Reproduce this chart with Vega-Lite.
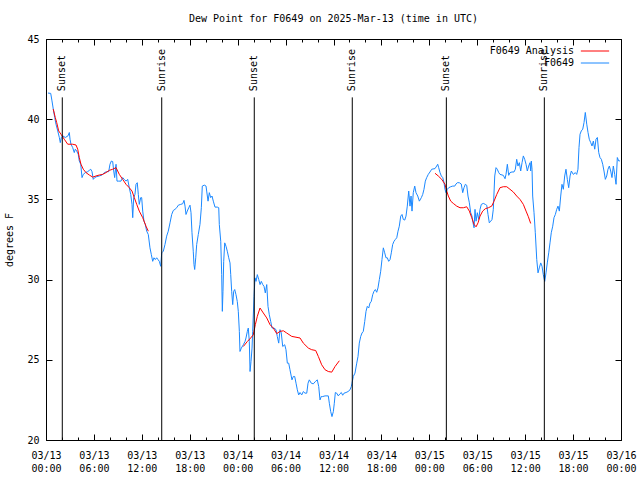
{
  "$schema": "https://vega.github.io/schema/vega-lite/v6.json",
  "autosize": {"type": "none"},
  "width": 575,
  "height": 401,
  "padding": {"left": 46, "top": 39, "right": 19, "bottom": 40},
  "background": "white",
  "title": {"text": "Dew Point for F0649 on 2025-Mar-13 (time in UTC)", "font": "DejaVu Sans Mono", "fontSize": 10, "fontWeight": "normal", "color": "black", "anchor": "middle", "offset": 10},
  "datasets": {
    "obs": [
      {"h":0.25,"v":41.63},{"h":0.59,"v":41.61},{"h":0.75,"v":41.14},{"h":0.91,"v":40.63},{"h":1.09,"v":40.11},{"h":1.25,"v":39.69},{"h":1.47,"v":39.27},{"h":1.67,"v":38.86},{"h":1.79,"v":38.54},{"h":1.92,"v":38.86},{"h":2.09,"v":38.96},{"h":2.42,"v":38.86},{"h":2.75,"v":38.96},{"h":2.92,"v":39.17},{"h":3.01,"v":38.75},{"h":3.13,"v":38.44},{"h":3.34,"v":38.23},{"h":3.54,"v":37.92},{"h":3.67,"v":38.13},{"h":3.84,"v":38.02},{"h":4.04,"v":37.81},{"h":4.17,"v":37.39},{"h":4.35,"v":37.19},{"h":4.51,"v":36.36},{"h":4.67,"v":36.56},{"h":4.92,"v":36.67},{"h":5.22,"v":36.73},{"h":5.42,"v":36.81},{"h":5.60,"v":36.88},{"h":5.76,"v":36.73},{"h":5.92,"v":36.25},{"h":6.10,"v":36.36},{"h":6.35,"v":36.42},{"h":6.67,"v":36.46},{"h":7.01,"v":36.52},{"h":7.30,"v":36.67},{"h":7.60,"v":36.73},{"h":7.85,"v":36.73},{"h":8.01,"v":37.19},{"h":8.18,"v":37.39},{"h":8.35,"v":37.36},{"h":8.48,"v":36.77},{"h":8.60,"v":36.36},{"h":8.77,"v":37.19},{"h":8.89,"v":36.14},{"h":9.10,"v":36.14},{"h":9.39,"v":36.14},{"h":9.60,"v":36.36},{"h":9.80,"v":36.25},{"h":10.02,"v":36.14},{"h":10.23,"v":36.25},{"h":10.43,"v":35.73},{"h":10.61,"v":35.31},{"h":10.77,"v":34.69},{"h":10.86,"v":33.86},{"h":10.98,"v":35.11},{"h":11.14,"v":35.31},{"h":11.27,"v":35.94},{"h":11.43,"v":36.04},{"h":11.56,"v":35.31},{"h":11.68,"v":34.69},{"h":11.86,"v":35.11},{"h":11.98,"v":35.11},{"h":12.11,"v":34.27},{"h":12.27,"v":33.64},{"h":12.43,"v":33.44},{"h":12.61,"v":33.02},{"h":12.81,"v":32.81},{"h":13.02,"v":31.98},{"h":13.19,"v":31.56},{"h":13.36,"v":31.14},{"h":13.52,"v":31.36},{"h":13.69,"v":31.25},{"h":13.86,"v":31.36},{"h":14.02,"v":31.25},{"h":14.19,"v":31.14},{"h":14.36,"v":30.83},{"h":14.49,"v":31.67},{"h":14.69,"v":31.77},{"h":14.90,"v":32.19},{"h":15.11,"v":32.71},{"h":15.31,"v":33.02},{"h":15.53,"v":33.54},{"h":15.74,"v":34.06},{"h":15.94,"v":34.31},{"h":16.15,"v":34.38},{"h":16.37,"v":34.48},{"h":16.57,"v":34.64},{"h":16.87,"v":34.69},{"h":17.12,"v":34.73},{"h":17.28,"v":34.94},{"h":17.41,"v":34.58},{"h":17.53,"v":34.06},{"h":17.69,"v":34.27},{"h":17.87,"v":34.48},{"h":18.03,"v":34.64},{"h":18.16,"v":34.17},{"h":18.28,"v":32.92},{"h":18.44,"v":31.77},{"h":18.53,"v":30.94},{"h":18.62,"v":30.63},{"h":18.75,"v":31.36},{"h":18.87,"v":32.19},{"h":19.07,"v":32.81},{"h":19.28,"v":33.44},{"h":19.45,"v":34.48},{"h":19.57,"v":35.83},{"h":19.82,"v":35.89},{"h":20.04,"v":35.83},{"h":20.12,"v":35.52},{"h":20.29,"v":34.89},{"h":20.45,"v":35.42},{"h":20.62,"v":35.11},{"h":20.79,"v":35.21},{"h":20.95,"v":34.89},{"h":21.16,"v":34.52},{"h":21.45,"v":34.52},{"h":21.63,"v":34.48},{"h":21.70,"v":33.44},{"h":21.88,"v":32.39},{"h":22.00,"v":30.31},{"h":22.08,"v":28.02},{"h":22.16,"v":29.27},{"h":22.25,"v":31.14},{"h":22.38,"v":32.29},{"h":22.54,"v":32.08},{"h":22.70,"v":31.77},{"h":22.88,"v":31.36},{"h":23.04,"v":31.04},{"h":23.13,"v":30.31},{"h":23.25,"v":29.27},{"h":23.38,"v":28.44},{"h":23.50,"v":29.27},{"h":23.63,"v":29.38},{"h":23.79,"v":29.06},{"h":23.95,"v":28.64},{"h":24.08,"v":28.02},{"h":24.21,"v":26.77},{"h":24.29,"v":25.52},{"h":24.46,"v":25.73},{"h":24.71,"v":25.94},{"h":24.92,"v":26.14},{"h":25.04,"v":26.36},{"h":25.21,"v":26.77},{"h":25.33,"v":26.98},{"h":25.46,"v":26.14},{"h":25.55,"v":24.27},{"h":25.67,"v":24.89},{"h":25.80,"v":25.73},{"h":25.88,"v":26.77},{"h":26.05,"v":28.96},{"h":26.17,"v":30.11},{"h":26.30,"v":29.89},{"h":26.46,"v":30.31},{"h":26.64,"v":30.00},{"h":26.80,"v":29.69},{"h":26.96,"v":29.89},{"h":27.14,"v":29.69},{"h":27.30,"v":29.58},{"h":27.46,"v":29.17},{"h":27.64,"v":29.69},{"h":27.80,"v":28.33},{"h":27.96,"v":27.81},{"h":28.14,"v":27.39},{"h":28.30,"v":26.98},{"h":28.55,"v":26.98},{"h":28.80,"v":26.88},{"h":28.96,"v":26.46},{"h":29.14,"v":26.04},{"h":29.30,"v":26.88},{"h":29.46,"v":26.67},{"h":29.64,"v":25.83},{"h":29.89,"v":25.94},{"h":30.05,"v":25.63},{"h":30.22,"v":24.79},{"h":30.39,"v":24.79},{"h":30.55,"v":24.38},{"h":30.80,"v":23.75},{"h":30.97,"v":23.96},{"h":31.14,"v":23.96},{"h":31.31,"v":23.54},{"h":31.47,"v":23.13},{"h":31.64,"v":22.81},{"h":31.81,"v":22.96},{"h":32.02,"v":22.81},{"h":32.22,"v":23.02},{"h":32.43,"v":22.92},{"h":32.65,"v":22.92},{"h":32.81,"v":23.54},{"h":32.97,"v":23.75},{"h":33.22,"v":23.54},{"h":33.47,"v":23.50},{"h":33.72,"v":23.64},{"h":33.97,"v":23.75},{"h":34.15,"v":23.33},{"h":34.31,"v":22.50},{"h":34.47,"v":22.71},{"h":34.65,"v":22.71},{"h":34.94,"v":22.75},{"h":35.35,"v":22.75},{"h":35.48,"v":22.29},{"h":35.65,"v":21.77},{"h":35.81,"v":21.46},{"h":35.98,"v":21.77},{"h":36.10,"v":22.29},{"h":36.23,"v":22.96},{"h":36.40,"v":22.92},{"h":36.60,"v":22.75},{"h":36.81,"v":22.88},{"h":36.98,"v":22.96},{"h":37.15,"v":22.79},{"h":37.32,"v":22.92},{"h":37.57,"v":22.96},{"h":37.82,"v":23.02},{"h":38.07,"v":23.13},{"h":38.23,"v":23.33},{"h":38.32,"v":23.54},{"h":38.48,"v":23.96},{"h":38.69,"v":24.17},{"h":38.91,"v":24.79},{"h":39.07,"v":25.21},{"h":39.23,"v":26.04},{"h":39.41,"v":26.46},{"h":39.57,"v":26.67},{"h":39.73,"v":26.77},{"h":39.91,"v":27.39},{"h":40.07,"v":28.02},{"h":40.23,"v":28.33},{"h":40.41,"v":28.23},{"h":40.57,"v":28.54},{"h":40.73,"v":28.64},{"h":40.91,"v":29.06},{"h":41.07,"v":29.27},{"h":41.24,"v":29.38},{"h":41.41,"v":29.21},{"h":41.57,"v":29.48},{"h":41.74,"v":30.00},{"h":41.91,"v":30.52},{"h":42.07,"v":31.25},{"h":42.24,"v":31.98},{"h":42.41,"v":31.67},{"h":42.57,"v":31.36},{"h":42.74,"v":31.36},{"h":42.91,"v":31.14},{"h":43.08,"v":31.25},{"h":43.24,"v":31.67},{"h":43.41,"v":32.19},{"h":43.58,"v":32.39},{"h":43.74,"v":32.50},{"h":43.92,"v":32.61},{"h":44.08,"v":33.02},{"h":44.24,"v":33.33},{"h":44.42,"v":33.96},{"h":44.58,"v":34.06},{"h":44.74,"v":33.75},{"h":44.92,"v":33.71},{"h":45.08,"v":33.96},{"h":45.24,"v":34.58},{"h":45.42,"v":35.52},{"h":45.58,"v":34.58},{"h":45.71,"v":35.21},{"h":45.83,"v":34.27},{"h":45.99,"v":35.42},{"h":46.17,"v":35.83},{"h":46.33,"v":35.42},{"h":46.55,"v":35.21},{"h":46.75,"v":34.89},{"h":47.00,"v":35.11},{"h":47.17,"v":35.31},{"h":47.33,"v":35.63},{"h":47.50,"v":36.14},{"h":47.67,"v":36.36},{"h":47.87,"v":36.56},{"h":48.08,"v":36.71},{"h":48.30,"v":36.88},{"h":48.71,"v":36.92},{"h":48.92,"v":37.08},{"h":49.05,"v":37.19},{"h":49.17,"v":36.98},{"h":49.34,"v":36.67},{"h":49.50,"v":36.46},{"h":49.68,"v":36.36},{"h":49.84,"v":36.04},{"h":49.96,"v":35.63},{"h":50.09,"v":35.42},{"h":50.25,"v":35.63},{"h":50.43,"v":35.73},{"h":50.68,"v":35.79},{"h":50.93,"v":35.83},{"h":51.18,"v":35.83},{"h":51.34,"v":35.96},{"h":51.50,"v":36.04},{"h":51.75,"v":36.04},{"h":52.00,"v":35.96},{"h":52.18,"v":35.42},{"h":52.34,"v":35.73},{"h":52.51,"v":35.94},{"h":52.68,"v":35.88},{"h":52.84,"v":35.21},{"h":53.01,"v":34.79},{"h":53.18,"v":34.17},{"h":53.34,"v":33.96},{"h":53.47,"v":33.54},{"h":53.60,"v":33.23},{"h":53.72,"v":34.38},{"h":53.85,"v":33.64},{"h":54.01,"v":34.17},{"h":54.18,"v":33.75},{"h":54.35,"v":34.38},{"h":54.51,"v":34.69},{"h":54.76,"v":34.75},{"h":55.01,"v":34.69},{"h":55.19,"v":34.63},{"h":55.35,"v":34.06},{"h":55.51,"v":33.54},{"h":55.69,"v":33.64},{"h":55.85,"v":33.75},{"h":56.01,"v":34.38},{"h":56.19,"v":36.46},{"h":56.35,"v":36.98},{"h":56.51,"v":36.88},{"h":56.69,"v":36.67},{"h":56.85,"v":36.56},{"h":57.26,"v":36.50},{"h":57.48,"v":36.29},{"h":57.60,"v":36.56},{"h":57.77,"v":37.19},{"h":57.94,"v":36.50},{"h":58.10,"v":36.67},{"h":58.35,"v":36.71},{"h":58.60,"v":36.71},{"h":58.77,"v":36.88},{"h":58.94,"v":37.50},{"h":59.10,"v":37.08},{"h":59.27,"v":37.29},{"h":59.44,"v":36.77},{"h":59.61,"v":37.29},{"h":59.77,"v":37.71},{"h":59.94,"v":37.50},{"h":60.11,"v":37.19},{"h":60.27,"v":36.77},{"h":60.44,"v":37.08},{"h":60.61,"v":37.29},{"h":60.69,"v":36.77},{"h":60.77,"v":37.39},{"h":60.86,"v":36.88},{"h":60.94,"v":35.21},{"h":61.11,"v":34.17},{"h":61.27,"v":32.92},{"h":61.45,"v":31.25},{"h":61.61,"v":30.42},{"h":61.77,"v":30.73},{"h":61.95,"v":31.04},{"h":62.11,"v":30.83},{"h":62.27,"v":30.31},{"h":62.45,"v":29.89},{"h":62.61,"v":30.42},{"h":62.77,"v":31.04},{"h":62.95,"v":31.67},{"h":63.11,"v":32.29},{"h":63.27,"v":32.92},{"h":63.45,"v":33.33},{"h":63.61,"v":33.86},{"h":63.78,"v":34.06},{"h":63.95,"v":34.38},{"h":64.11,"v":34.58},{"h":64.28,"v":34.27},{"h":64.45,"v":35.21},{"h":64.61,"v":35.94},{"h":64.78,"v":35.63},{"h":64.95,"v":36.46},{"h":65.11,"v":36.88},{"h":65.28,"v":36.25},{"h":65.45,"v":35.73},{"h":65.62,"v":36.46},{"h":65.78,"v":36.77},{"h":66.03,"v":36.56},{"h":66.28,"v":36.67},{"h":66.45,"v":36.56},{"h":66.61,"v":36.88},{"h":66.74,"v":38.23},{"h":66.87,"v":39.06},{"h":67.03,"v":39.27},{"h":67.21,"v":39.38},{"h":67.37,"v":39.79},{"h":67.53,"v":40.42},{"h":67.71,"v":39.69},{"h":67.87,"v":39.17},{"h":68.03,"v":38.75},{"h":68.21,"v":38.54},{"h":68.37,"v":38.33},{"h":68.54,"v":38.64},{"h":68.71,"v":38.13},{"h":68.87,"v":38.75},{"h":69.04,"v":38.86},{"h":69.21,"v":37.92},{"h":69.37,"v":37.61},{"h":69.54,"v":37.50},{"h":69.71,"v":37.19},{"h":69.87,"v":36.77},{"h":70.04,"v":36.25},{"h":70.21,"v":36.46},{"h":70.37,"v":36.88},{"h":70.54,"v":37.08},{"h":70.71,"v":36.77},{"h":70.87,"v":36.36},{"h":71.04,"v":37.08},{"h":71.21,"v":36.56},{"h":71.38,"v":35.94},{"h":71.54,"v":37.61},{"h":71.71,"v":37.40},{"h":71.88,"v":37.40}
    ],
    "ana": [
      {"seg":1,"h":0.91,"v":40.63},{"seg":1,"h":1.16,"v":40.11},{"seg":1,"h":1.34,"v":39.79},{"seg":1,"h":1.59,"v":39.27},{"seg":1,"h":1.88,"v":39.06},{"seg":1,"h":2.29,"v":38.75},{"seg":1,"h":2.72,"v":38.44},{"seg":1,"h":3.34,"v":38.44},{"seg":1,"h":3.76,"v":38.39},{"seg":1,"h":3.97,"v":38.13},{"seg":1,"h":4.17,"v":37.61},{"seg":1,"h":4.38,"v":37.19},{"seg":1,"h":4.67,"v":36.88},{"seg":1,"h":5.01,"v":36.67},{"seg":1,"h":5.42,"v":36.52},{"seg":1,"h":5.85,"v":36.39},{"seg":1,"h":6.26,"v":36.46},{"seg":1,"h":6.67,"v":36.52},{"seg":1,"h":7.10,"v":36.56},{"seg":1,"h":7.51,"v":36.67},{"seg":1,"h":7.93,"v":36.81},{"seg":1,"h":8.35,"v":36.88},{"seg":1,"h":8.77,"v":36.98},{"seg":1,"h":9.18,"v":36.56},{"seg":1,"h":9.60,"v":36.25},{"seg":1,"h":10.02,"v":35.94},{"seg":1,"h":10.43,"v":35.73},{"seg":1,"h":10.77,"v":35.52},{"seg":1,"h":11.06,"v":35.11},{"seg":1,"h":11.36,"v":34.69},{"seg":1,"h":11.68,"v":34.27},{"seg":1,"h":12.11,"v":33.86},{"seg":1,"h":12.52,"v":33.33},{"seg":1,"h":12.81,"v":33.02},
      {"seg":2,"h":24.71,"v":25.83},{"seg":2,"h":25.21,"v":26.14},{"seg":2,"h":25.63,"v":26.36},{"seg":2,"h":25.96,"v":26.56},{"seg":2,"h":26.21,"v":27.19},{"seg":2,"h":26.46,"v":27.71},{"seg":2,"h":26.80,"v":28.23},{"seg":2,"h":27.21,"v":27.92},{"seg":2,"h":27.64,"v":27.61},{"seg":2,"h":28.05,"v":27.19},{"seg":2,"h":28.46,"v":26.98},{"seg":2,"h":28.89,"v":26.63},{"seg":2,"h":29.30,"v":26.77},{"seg":2,"h":29.72,"v":26.81},{"seg":2,"h":30.14,"v":26.67},{"seg":2,"h":30.77,"v":26.46},{"seg":2,"h":31.81,"v":26.36},{"seg":2,"h":32.22,"v":26.04},{"seg":2,"h":32.85,"v":25.73},{"seg":2,"h":33.27,"v":25.63},{"seg":2,"h":33.77,"v":25.58},{"seg":2,"h":34.10,"v":25.21},{"seg":2,"h":34.52,"v":24.69},{"seg":2,"h":34.94,"v":24.38},{"seg":2,"h":35.35,"v":24.27},{"seg":2,"h":35.78,"v":24.23},{"seg":2,"h":36.19,"v":24.58},{"seg":2,"h":36.73,"v":24.94},
      {"seg":3,"h":48.71,"v":36.63},{"seg":3,"h":49.12,"v":36.46},{"seg":3,"h":49.55,"v":36.25},{"seg":3,"h":49.96,"v":35.94},{"seg":3,"h":50.18,"v":35.52},{"seg":3,"h":50.38,"v":35.21},{"seg":3,"h":50.68,"v":34.89},{"seg":3,"h":51.00,"v":34.75},{"seg":3,"h":51.43,"v":34.58},{"seg":3,"h":51.84,"v":34.48},{"seg":3,"h":52.26,"v":34.48},{"seg":3,"h":52.68,"v":34.54},{"seg":3,"h":53.01,"v":34.27},{"seg":3,"h":53.31,"v":33.86},{"seg":3,"h":53.60,"v":33.44},{"seg":3,"h":53.85,"v":33.29},{"seg":3,"h":54.10,"v":33.54},{"seg":3,"h":54.35,"v":33.96},{"seg":3,"h":54.68,"v":34.27},{"seg":3,"h":55.01,"v":34.42},{"seg":3,"h":55.39,"v":34.48},{"seg":3,"h":55.81,"v":34.58},{"seg":3,"h":56.10,"v":34.89},{"seg":3,"h":56.44,"v":35.31},{"seg":3,"h":56.85,"v":35.73},{"seg":3,"h":57.26,"v":35.79},{"seg":3,"h":57.69,"v":35.79},{"seg":3,"h":58.10,"v":35.63},{"seg":3,"h":58.52,"v":35.46},{"seg":3,"h":58.94,"v":35.21},{"seg":3,"h":59.35,"v":35.00},{"seg":3,"h":59.77,"v":34.69},{"seg":3,"h":60.11,"v":34.27},{"seg":3,"h":60.40,"v":33.92},{"seg":3,"h":60.69,"v":33.50}
    ],
    "sun": [
      {"h":2.04,"event":"Sunset"},{"h":14.49,"event":"Sunrise"},{"h":26.08,"event":"Sunset"},{"h":38.35,"event":"Sunrise"},{"h":50.13,"event":"Sunset"},{"h":62.40,"event":"Sunrise"}
    ]
  },
  "layer": [
    {
      "data": {"name": "obs"},
      "mark": {"type": "line", "strokeWidth": 1, "clip": true},
      "encoding": {
        "x": {"field": "h", "type": "quantitative", "scale": {"domain": [0, 72], "nice": false, "zero": false},
              "axis": {"orient": "bottom", "title": null, "values": [0,6,12,18,24,30,36,42,48,54,60,66,72], "tickSize": -6, "labelPadding": 16, "labelLineHeight": 13, "labelFlush": false, "labelOverlap": false,
                       "labelExpr": "['03/' + (13 + floor(datum.value / 24)), (datum.value % 24 < 10 ? '0' : '') + (datum.value % 24) + ':00']"}},
        "y": {"field": "v", "type": "quantitative", "scale": {"domain": [20, 45], "nice": false, "zero": false},
              "axis": {"orient": "left", "title": "degrees F", "values": [20,25,30,35,40,45], "tickSize": -6, "labelPadding": 13, "titlePadding": 12}},
        "color": {"datum": "F0649", "type": "nominal", "scale": {"domain": ["F0649 Analysis", "F0649"], "range": ["#ff0000", "#1a88ff"]},
                  "legend": {"orient": "none", "legendX": 544, "legendY": 7, "title": null, "padding": 0, "rowPadding": 2, "symbolType": "M-5,0H5", "symbolSize": 32, "symbolStrokeWidth": 1, "labelFont": "DejaVu Sans Mono", "labelFontSize": 10, "labelColor": "black", "labelAlign": "right", "labelOffset": -26, "labelLimit": 300}}
      }
    },
    {
      "data": {"name": "ana"},
      "mark": {"type": "line", "strokeWidth": 1, "clip": true},
      "encoding": {
        "x": {"field": "h", "type": "quantitative",
              "axis": {"orient": "top", "title": null, "labels": false, "values": [0,2,4,6,8,10,12,14,16,18,20,22,24,26,28,30,32,34,36,38,40,42,44,46,48,50,52,54,56,58,60,62,64,66,68,70,72], "tickSize": -3}},
        "y": {"field": "v", "type": "quantitative", "axis": null},
        "detail": {"field": "seg", "type": "nominal"},
        "color": {"datum": "F0649 Analysis", "type": "nominal"}
      }
    },
    {
      "data": {"name": "sun"},
      "mark": {"type": "rule", "color": "black", "strokeWidth": 1},
      "encoding": {
        "x": {"field": "h", "type": "quantitative",
              "axis": {"orient": "top", "title": null, "labels": false, "values": [0,6,12,18,24,30,36,42,48,54,60,66,72], "tickSize": -6}},
        "y": {"datum": 41.36, "type": "quantitative",
              "axis": {"orient": "right", "title": null, "labels": false, "values": [20,25,30,35,40,45], "tickSize": -6}},
        "y2": {"datum": 20}
      }
    },
    {
      "data": {"name": "sun"},
      "mark": {"type": "text", "angle": 270, "align": "left", "baseline": "middle", "font": "DejaVu Sans Mono", "fontSize": 10, "color": "black"},
      "encoding": {
        "x": {"field": "h", "type": "quantitative",
              "axis": {"orient": "bottom", "title": null, "labels": false, "values": [0,2,4,6,8,10,12,14,16,18,20,22,24,26,28,30,32,34,36,38,40,42,44,46,48,50,52,54,56,58,60,62,64,66,68,70,72], "tickSize": -3}},
        "y": {"datum": 41.75, "type": "quantitative", "axis": null},
        "text": {"field": "event"}
      }
    }
  ],
  "resolve": {"axis": {"x": "independent", "y": "independent"}},
  "config": {
    "view": {"stroke": "black", "strokeWidth": 1},
    "axis": {"domain": false, "grid": false, "tickColor": "black", "tickWidth": 1, "labelFont": "DejaVu Sans Mono", "labelFontSize": 10, "labelColor": "black", "titleFont": "DejaVu Sans Mono", "titleFontSize": 10, "titleFontWeight": "normal", "titleColor": "black"}
  }
}
